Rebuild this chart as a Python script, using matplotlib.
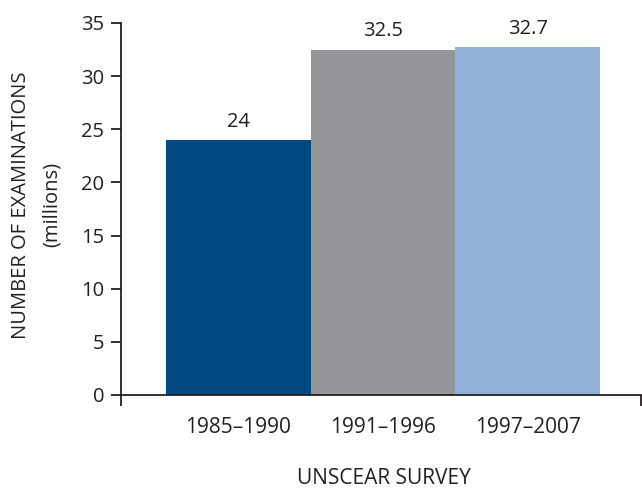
import matplotlib.pyplot as plt

# data
periods = ["1985–1990", "1991–1996", "1997–2007"]
exams = [24, 32.5, 32.7]
colors = ["#004a82", "#939598", "#92b3d9"]
yticks = [0, 5, 10, 15, 20, 25, 30, 35]

plt.rcParams['font.family'] = ['Open Sans', 'DejaVu Sans']
ink = "#231f20"

fig = plt.figure(figsize=(6.42, 4.88), dpi=100)
ax = fig.add_axes([0.1885, 0.1906, 0.8095, 0.7624])

x = list(range(len(periods)))
ax.bar(x, exams, width=1.0, color=colors)

for xi, v in zip(x, exams):
    ax.annotate(f"{v:g}", (xi, v), xytext=(0, 6), textcoords="offset points",
                ha="center", va="bottom", fontsize=14.5, color=ink)

ax.set_xlim(-0.81, 2.78)
ax.set_ylim(0, 35)
ax.set_yticks(yticks)
ax.tick_params(axis="y", direction="out", length=7, width=1.3, labelsize=14.5,
               colors=ink, pad=5)

# x ticks only at the two ends of the axis, category labels as text
ax.set_xticks([-0.81, 2.78])
ax.set_xticklabels([])
ax.tick_params(axis="x", direction="out", length=8, width=1.3, colors=ink)
for xi, lab in zip(x, periods):
    ax.annotate(lab, (xi, 0), xytext=(0, -16), textcoords="offset points",
                ha="center", va="top", fontsize=15, color=ink)

ax.spines["top"].set_visible(False)
ax.spines["right"].set_visible(False)
for s in ["left", "bottom"]:
    ax.spines[s].set_linewidth(1.3)
    ax.spines[s].set_color(ink)

# axis titles
fig.text(21 / 642, 1 - 205 / 488, "NUMBER OF EXAMINATIONS", rotation=90,
         ha="center", va="center", fontsize=14.5, color=ink)
fig.text(52 / 642, 1 - 204 / 488, "(millions)", rotation=90,
         ha="center", va="center", fontsize=14.5, color=ink)
fig.text(384 / 642, 1 - 479 / 488, "UNSCEAR SURVEY", ha="center", va="center",
         fontsize=15, color=ink)

fig.savefig("out.png", dpi=100)
